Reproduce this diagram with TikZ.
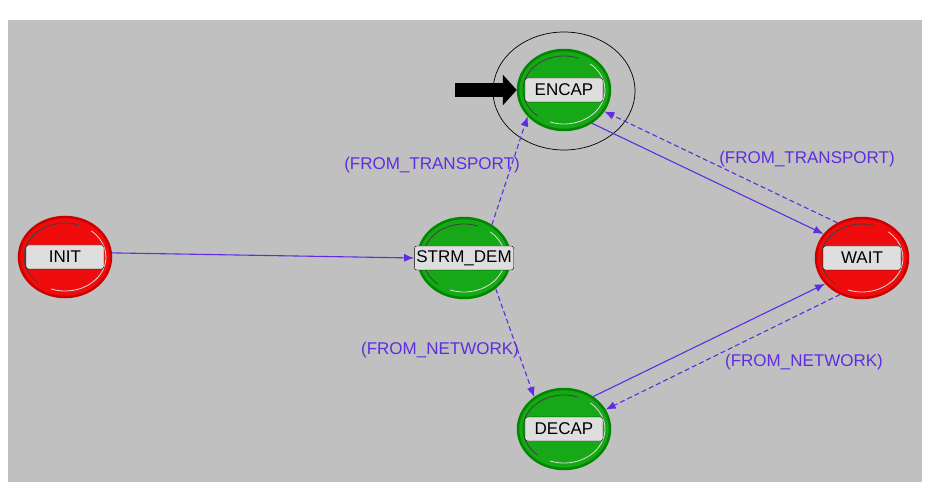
\documentclass[tikz,border=0pt]{standalone}
\usepackage{fontspec}
\setmainfont{Liberation Sans}
\usetikzlibrary{shapes.geometric,arrows.meta}
\definecolor{panelgrey}{RGB}{192,192,192}
\definecolor{redfill}{RGB}{240,12,12}
\definecolor{redrim}{RGB}{205,0,0}
\definecolor{greenfill}{RGB}{22,168,22}
\definecolor{greenrim}{RGB}{0,135,0}
\definecolor{transcol}{RGB}{95,45,225}
\definecolor{tagfill}{RGB}{222,222,222}

\tikzset{
  statebase/.style={ellipse, line width=2.5pt, minimum width=92pt, minimum height=80pt, inner sep=0pt},
  unforced/.style={statebase, fill=redfill, draw=redrim},
  forced/.style={statebase, fill=greenfill, draw=greenrim},
  tag/.style={draw=black, fill=tagfill, rounded corners=2.5pt, minimum width=78pt, minimum height=24pt, inner sep=2pt, font=\fontsize{17}{20}\selectfont},
  trans/.style={transcol, line width=1.1pt, -{Latex[length=10pt,width=8pt]}},
  cond/.style={trans, dash pattern=on 5pt off 3pt},
  condlabel/.style={text=transcol, inner sep=0pt, font=\fontsize{17}{20}\selectfont}
}

\begin{document}
\begin{tikzpicture}[x=1pt,y=-1pt]
\useasboundingbox (0,0) rectangle (926,486);
\fill[panelgrey] (8,20) rectangle (922,482);

\node[ellipse, draw=black, line width=0.7pt, minimum width=142pt, minimum height=118pt] (encap-ring) at (564,91) {};

\node[unforced] (init) at (65,257) {};
\node[forced] (strm) at (464,258) {};
\node[forced] (encap) at (564,90) {};
\node[unforced] (wait) at (862,258) {};
\node[forced] (decap) at (564,429) {};

\foreach \s in {init,strm,encap,wait,decap} {
  \draw[black!75, line width=0.8pt] (\s.center) ++(-70:41 and 34) arc[start angle=-70, end angle=-230, x radius=41, y radius=34];
  \draw[white!75!gray, line width=0.8pt] (\s.center) ++(110:41 and 34) arc[start angle=110, end angle=-50, x radius=41, y radius=34];
}

\node[tag] (init-tag) at (init) {INIT};
\node[tag] (strm-tag) at (strm) {STRM\_DEM};
\node[tag] (encap-tag) at (encap) {ENCAP};
\node[tag] (wait-tag) at (wait) {WAIT};
\node[tag] (decap-tag) at (decap) {DECAP};

\coordinate (entry) at (455,90);
\draw[line width=14pt, -{Triangle[length=14pt,width=30pt]}] (entry) -- (encap.west);

\draw[trans] (init.5) -- (strm-tag.west);
\draw[cond] (strm.50) -- (encap.216);
\draw[cond] (strm.-44) -- (decap.133);
\draw[trans] (encap.-50) -- (wait.148);
\draw[cond] (wait.125) -- (encap.-28);
\draw[trans] (decap.48) -- (wait.215);
\draw[cond] (wait.239) -- (decap.25);

\node[condlabel] (lbl-se) at (432,165) {(FROM\_TRANSPORT)};
\node[condlabel] (lbl-sd) at (440,350) {(FROM\_NETWORK)};
\node[condlabel] (lbl-we) at (807,159) {(FROM\_TRANSPORT)};
\node[condlabel] (lbl-wd) at (804,362) {(FROM\_NETWORK)};
\end{tikzpicture}
\end{document}
